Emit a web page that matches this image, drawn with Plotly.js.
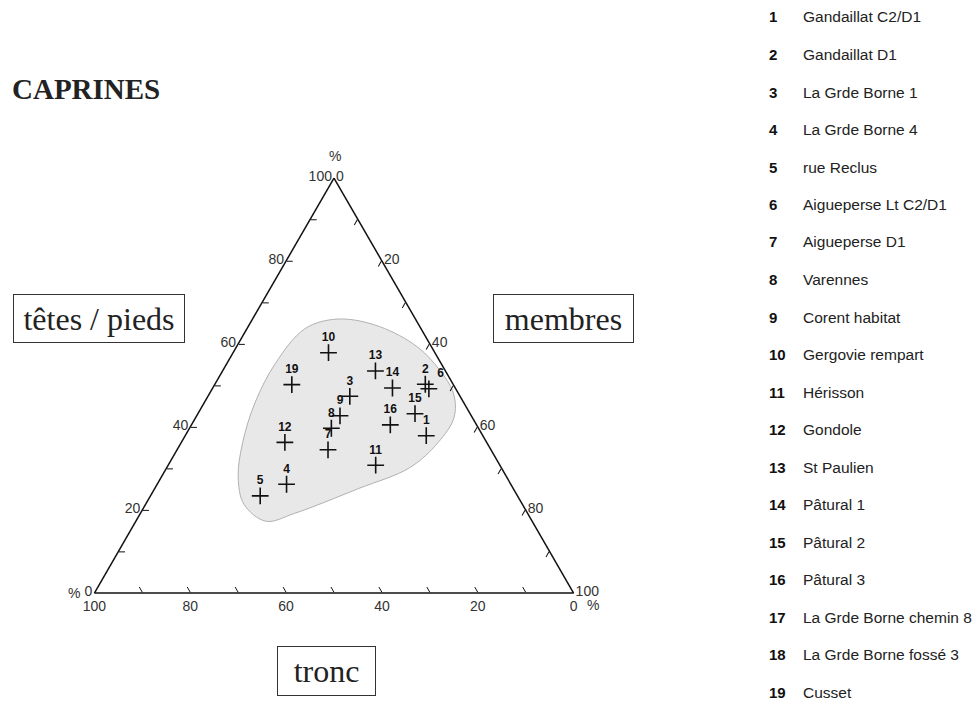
<!DOCTYPE html>
<html><head><meta charset="utf-8">
<script src="https://cdn.plot.ly/plotly-3.0.1.min.js"></script>
<style>html,body{margin:0;padding:0;background:#fff}</style>
</head><body><div id="chart" style="width:973px;height:702px"></div>
<script>
// ---- data (percent) ----
const pointLabels = ['1','2','3','4','5','6','7','8','9','10','11','12','13','14','15','16','19'];
const tetesPieds  = [37.9, 50.3, 47.4, 26.2, 23.4, 49.2, 34.5, 39.7, 42.7, 57.9, 30.8, 36.3, 53.5, 49.4, 43.2, 40.5, 50.2];
const tronc       = [11.8,  5.8, 23.0, 46.8, 53.7,  5.6, 34.0, 30.7, 27.4, 22.2, 25.9, 42.1, 14.6, 13.1, 11.5, 18.0, 33.7];
const membres     = [50.3, 43.9, 29.6, 27.0, 22.9, 45.2, 31.5, 29.6, 29.9, 19.9, 43.3, 21.6, 31.9, 37.5, 45.3, 41.5, 16.1];

// grey envelope (hull) around the points
const hullTetes   = [66.0, 64.6, 60.1, 55.3, 48.2, 42.3, 36.3, 30.2, 25.2, 19.2, 17.3, 21.4, 28.0, 36.3, 45.8, 55.3, 63.7, 66.0];
const hullTronc   = [16.4,  9.2,  3.5,  1.4,  1.0,  3.8, 10.1, 19.1, 32.2, 48.6, 55.6, 58.1, 56.0, 50.9, 43.6, 34.6, 24.2, 16.4];
const hullMembres = [17.6, 26.2, 36.4, 43.3, 50.8, 53.9, 53.6, 50.7, 42.6, 32.2, 27.1, 20.5, 16.0, 12.8, 10.6, 10.1, 12.1, 17.6];

const legendNumbers = ['1','2','3','4','5','6','7','8','9','10','11','12','13','14','15','16','17','18','19'];
const legendNames = ['Gandaillat C2/D1','Gandaillat D1','La Grde Borne 1','La Grde Borne 4','rue Reclus',
  'Aigueperse Lt C2/D1','Aigueperse D1','Varennes','Corent habitat','Gergovie rempart','Hérisson',
  'Gondole','St Paulien','Pâtural 1','Pâtural 2','Pâtural 3','La Grde Borne chemin 8',
  'La Grde Borne fossé 3','Cusset'];

const chartTitle = 'CAPRINES';
const axisNames = ['têtes / pieds', 'membres', 'tronc'];

// ---- layout helpers ----
const W = 973, H = 702;
const px = x => x / W;
const py = y => 1 - y / H;
const triBaseY = 593, triTopY = 178, triCX = 334;
const triH = triBaseY - triTopY;
const triW = triH * 2 / Math.sqrt(3);
const triL = triCX - triW / 2, triR = triCX + triW / 2;

const textPos = pointLabels.map(l => l === '6' ? 'top right' : 'top center');

const hull = {
  type: 'scatterternary', mode: 'lines',
  a: hullTetes, b: hullTronc, c: hullMembres,
  fill: 'toself', fillcolor: '#e8e8e8',
  line: {color: '#b0b0b0', width: 1, shape: 'spline', smoothing: 1},
  hoverinfo: 'skip', showlegend: false
};
const pts = {
  type: 'scatterternary', mode: 'markers+text',
  a: tetesPieds, b: tronc, c: membres,
  text: pointLabels, textposition: textPos,
  textfont: {family: 'Liberation Sans, Arial, sans-serif', size: 12, color: '#111', weight: 700},
  marker: {symbol: 'cross-thin', size: 12, color: '#111', line: {color: '#111', width: 1.6}},
  showlegend: false
};

function axisCfg() {
  return {
    min: 0, tickmode: 'linear', tick0: 0, dtick: 10, ticklabelstep: 2,
    ticks: 'inside', ticklen: 6, tickwidth: 1, tickcolor: '#111',
    showline: true, linecolor: '#111', linewidth: 1.5,
    showgrid: false,
    tickfont: {family: 'Liberation Sans, Arial, sans-serif', size: 14, color: '#333'},
    title: {text: ''}
  };
}

const annotations = [];
// boxed axis names
const boxes = [
  {x: 99, y: 318.5, w: 170, h: 47},
  {x: 563.5, y: 318.5, w: 139, h: 47},
  {x: 326.5, y: 671, w: 97, h: 48}
];
axisNames.forEach((t, i) => {
  annotations.push({
    text: t, xref: 'paper', yref: 'paper', x: px(boxes[i].x), y: py(boxes[i].y),
    xanchor: 'center', yanchor: 'middle', showarrow: false,
    width: boxes[i].w, height: boxes[i].h, borderpad: 0,
    bordercolor: '#333', borderwidth: 1, bgcolor: 'rgba(255,255,255,0)',
    font: {family: 'Liberation Serif, Times New Roman, serif', size: 32, color: '#222'}
  });
});
// % signs at the corners
[[triCX + 1, triTopY - 22], [triL - 20, triBaseY], [triR + 19, triBaseY + 12]].forEach(p => {
  annotations.push({text: '%', xref: 'paper', yref: 'paper', x: px(p[0]), y: py(p[1]),
    xanchor: 'center', yanchor: 'middle', showarrow: false,
    font: {family: 'Liberation Sans, Arial, sans-serif', size: 14, color: '#333'}});
});
// legend list
legendNumbers.forEach((n, i) => {
  const y = 17 + i * 37.5;
  annotations.push({text: n, xref: 'paper', yref: 'paper', x: px(767), y: py(y),
    xanchor: 'left', yanchor: 'middle', showarrow: false,
    font: {family: 'Liberation Sans, Arial, sans-serif', size: 15, color: '#111', weight: 700}});
  annotations.push({text: legendNames[i], xref: 'paper', yref: 'paper', x: px(801), y: py(y),
    xanchor: 'left', yanchor: 'middle', showarrow: false,
    font: {family: 'Liberation Sans, Arial, sans-serif', size: 15.5, color: '#222'}});
});

const layout = {
  width: W, height: H,
  margin: {l: 0, r: 0, t: 0, b: 0},
  paper_bgcolor: '#fff',
  showlegend: false,
  title: {text: chartTitle, xref: 'container', yref: 'container', x: px(12), xanchor: 'left',
    y: py(89), yanchor: 'middle',
    font: {family: 'Liberation Serif, Times New Roman, serif', size: 29, color: '#222', weight: 700}},
  ternary: {
    sum: 100,
    bgcolor: '#fff',
    domain: {x: [px(triL), px(triR)], y: [py(triBaseY), py(triTopY)]},
    aaxis: axisCfg(), baxis: axisCfg(), caxis: axisCfg()
  },
  annotations: annotations
};

Plotly.newPlot('chart', [hull, pts], layout, {displayModeBar: false, staticPlot: true});
</script>
</body></html>
